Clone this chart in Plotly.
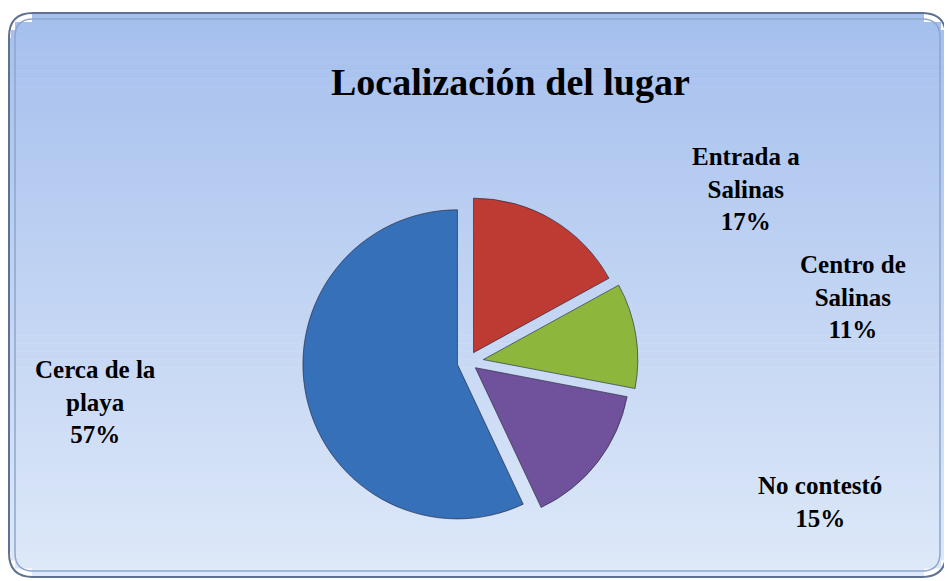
import math
import plotly.graph_objects as go

# ---- data ----
categories = ["Entrada a Salinas", "Centro de Salinas", "No contestó", "Cerca de la playa"]
label_lines = [["Entrada a", "Salinas"], ["Centro de", "Salinas"], ["No contestó"], ["Cerca de la", "playa"]]
values = [17, 11, 15, 57]
title_text = "Localización del lugar"

# ---- styling ----
colors = ["#BD3B33", "#8DB73C", "#6F519C", "#3670B9"]
pulls = [0.07, 0.1, 0.06, 0.07]
# label centres in page pixels (x, y)
label_pos = [(746, 189), (853, 297), (820, 502), (95, 402)]

OFF = 8  # page body margin
W, H = 952 - OFF, 581 - OFF
FONT = "Liberation Serif, Times New Roman, serif"


def px(x):
    return (x - OFF) / W


def py(y):
    return 1 - (y - OFF) / H


shapes = []
# gradient background inside rounded frame
x0, x1, y0, y1, r = 10, 946, 14, 576, 22
top_c = (166, 192, 238)
bot_c = (222, 233, 249)
n = 70
for i in range(n):
    ya = y0 + (y1 - y0) * i / n
    yb = y0 + (y1 - y0) * (i + 1) / n
    inset = 0
    for yy in (ya, yb):
        d = 0
        if yy < y0 + r:
            dy = y0 + r - yy
            d = r - math.sqrt(max(r * r - dy * dy, 0))
        elif yy > y1 - r:
            dy = yy - (y1 - r)
            d = r - math.sqrt(max(r * r - dy * dy, 0))
        inset = max(inset, d)
    t = i / (n - 1)
    c = tuple(int(top_c[k] + (bot_c[k] - top_c[k]) * t) for k in range(3))
    shapes.append(dict(type="rect", xref="paper", yref="paper",
                       x0=px(x0 + inset), x1=px(x1 - inset), y0=py(yb + 0.6), y1=py(ya),
                       fillcolor="rgb(%d,%d,%d)" % c, line=dict(width=0), layer="below"))


def rounded_path(xa, ya, xb, yb, rr):
    return (f"M {px(xa+rr)},{py(ya)} L {px(xb-rr)},{py(ya)} "
            f"Q {px(xb)},{py(ya)} {px(xb)},{py(ya+rr)} "
            f"L {px(xb)},{py(yb-rr)} Q {px(xb)},{py(yb)} {px(xb-rr)},{py(yb)} "
            f"L {px(xa+rr)},{py(yb)} Q {px(xa)},{py(yb)} {px(xa)},{py(yb-rr)} "
            f"L {px(xa)},{py(ya+rr)} Q {px(xa)},{py(ya)} {px(xa+rr)},{py(ya)} Z")


shapes.append(dict(type="path", xref="paper", yref="paper",
                   path=rounded_path(9, 13, 946, 577, 24),
                   line=dict(color="#5F7190", width=2), layer="below"))
shapes.append(dict(type="path", xref="paper", yref="paper",
                   path=rounded_path(15, 19, 940, 571, 18),
                   line=dict(color="#8FA6CC", width=1.5), layer="below"))

total = sum(values)
annotations = [dict(text="<b>" + title_text + "</b>", x=px(510), y=py(82),
                    xref="paper", yref="paper", showarrow=False,
                    font=dict(family=FONT, size=38, color="black"),
                    xanchor="center", yanchor="middle")]
for lines, v, (lx, ly) in zip(label_lines, values, label_pos):
    txt = "<br>".join(lines + ["%d%%" % round(100 * v / total)])
    annotations.append(dict(text="<b>" + txt + "</b>", x=px(lx), y=py(ly),
                            xref="paper", yref="paper", showarrow=False,
                            align="center", xanchor="center", yanchor="middle",
                            font=dict(family=FONT, size=25, color="black")))

fig = go.Figure(go.Pie(
    labels=categories,
    values=values,
    textinfo="none",
    marker=dict(colors=colors, line=dict(color="rgba(30,30,50,0.6)", width=1)),
    pull=pulls,
    sort=False,
    direction="clockwise",
    rotation=0,
    automargin=False,
    showlegend=False,
    domain=dict(x=[px(298), px(638)], y=[py(532), py(192)]),
    hoverinfo="label+percent",
))

fig.update_layout(
    width=W, height=H,
    margin=dict(l=0, r=0, t=0, b=0),
    paper_bgcolor="white",
    plot_bgcolor="white",
    shapes=shapes,
    annotations=annotations,
)

fig.write_html("out.html")
